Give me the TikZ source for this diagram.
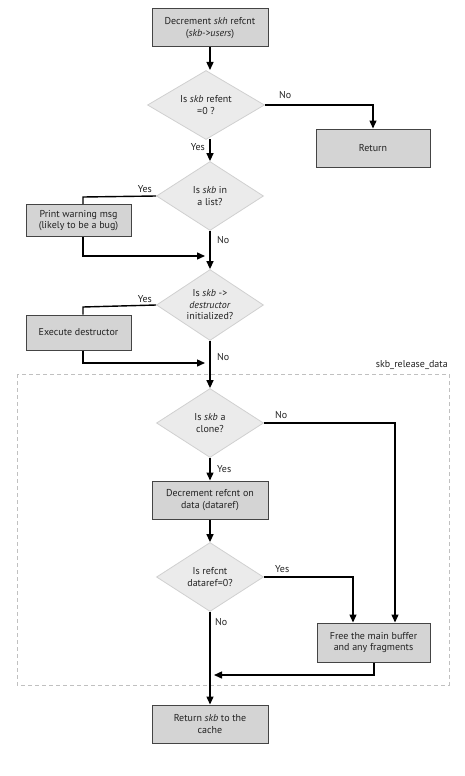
\documentclass[tikz,border=0pt]{standalone}
\usepackage{fontspec}
\setmainfont{PT Sans}
\usetikzlibrary{shapes.geometric,arrows.meta}
\definecolor{boxfill}{HTML}{D4D4D4}
\definecolor{boxline}{HTML}{444444}
\definecolor{diafill}{HTML}{EBEBEB}
\definecolor{dialine}{HTML}{D0D0D0}
\definecolor{dashline}{HTML}{C0C0C0}
\definecolor{txt}{HTML}{222222}
\begin{document}
\begin{tikzpicture}[x=1pt,y=-1pt,
  every node/.style={font=\fontsize{10}{11.5}\selectfont,text=txt},
  procbox/.style={draw=boxline,line width=1pt,fill=boxfill,align=center,inner sep=0pt},
  decision/.style={diamond,draw=dialine,line width=0.8pt,fill=diafill,align=center,inner sep=0pt,aspect=1.55},
  flow/.style={line width=1.4pt,draw=black},
  arr/.style={flow,-{Triangle[length=8pt,width=7pt]}},
  lbl/.style={inner sep=1pt}]
\useasboundingbox (0,0) rectangle (465,776);
% dashed region
\draw[dashline,line width=0.8pt,dash pattern=on 4pt off 3pt] (17,374) rectangle (449,685);
\node[anchor=south east,inner sep=1pt] (grp) at (449,371) {skb\_release\_data};
% nodes
\node[procbox,minimum width=116pt,minimum height=38pt] (top) at (210,28) {Decrement \textit{skh} refcnt\\(\textit{skb->users})};
\node[decision,minimum width=117pt,minimum height=69pt] (d1) at (206,105) {Is \textit{skb} refent\\=0 ?};
\node[procbox,minimum width=114pt,minimum height=38pt] (ret) at (373,148) {Return};
\node[decision,minimum width=107pt,minimum height=69pt] (d2) at (210,196) {Is \textit{skb} in\\a list?};
\node[procbox,minimum width=105pt,minimum height=32pt] (warn) at (78.5,220.5) {Print warning msg\\(likely to be a bug)};
\node[decision,minimum width=107pt,minimum height=71pt] (d3) at (210,305) {Is \textit{skb} ->\\\textit{destructor}\\initialized?};
\node[procbox,minimum width=105pt,minimum height=35pt] (exec) at (78.5,332.5) {Execute destructor};
\node[decision,minimum width=107pt,minimum height=69pt] (d4) at (210,423) {Is \textit{skb} a\\clone?};
\node[procbox,minimum width=116pt,minimum height=38pt] (dec2) at (210,500) {Decrement refcnt on\\data (dataref)};
\node[decision,minimum width=107pt,minimum height=69pt] (d5) at (210,577) {Is refcnt\\dataref=0?};
\node[procbox,minimum width=113pt,minimum height=39pt] (free) at (373.5,642.5) {Free the main buffer\\and any fragments};
\node[procbox,minimum width=116pt,minimum height=38pt] (last) at (210,724) {Return \textit{skb} to the\\cache};
% helper coordinates
\coordinate (c1) at (373,105);
\coordinate (c2) at (83,197);
\coordinate (c3) at (83,256);
\coordinate (c3e) at (205,256);
\coordinate (c4) at (83,307);
\coordinate (c5) at (83,363);
\coordinate (c5e) at (205,363);
\coordinate (c6) at (395,423);
\coordinate (c7) at (353,577);
\coordinate (c8) at (374,675);
\coordinate (c8e) at (214,675);
% connectors
\draw[arr] (top.south -| 210,0) -- (210,70);
\draw[arr] (d1.east) -- (c1) -- (ret.north);
\node[lbl,anchor=south west] (no1) at (278,100) {No};
\draw[arr] (210,139) -- (d2.north);
\node[lbl,anchor=east] (yes1) at (206,147) {Yes};
\draw[flow] (d2.west) -- (c2) -- (warn.north -| c2);
\draw[arr] (warn.south -| c3) -- (c3) -- (c3e);
\node[lbl,anchor=south east] (yes2) at (153,194) {Yes};
\draw[arr] (d2.south) -- (d3.north);
\node[lbl,anchor=west] (no2) at (216,240) {No};
\draw[flow] (d3.west) -- (c4) -- (exec.north -| c4);
\draw[arr] (exec.south -| c5) -- (c5) -- (c5e);
\node[lbl,anchor=south east] (yes3) at (153,304) {Yes};
\draw[arr] (d3.south) -- (d4.north);
\node[lbl,anchor=west] (no3) at (216,357) {No};
\draw[arr] (d4.east) -- (c6) -- (free.north -| c6);
\node[lbl,anchor=south west] (no4) at (274,420) {No};
\draw[arr] (d4.south) -- (dec2.north);
\node[lbl,anchor=west] (yes4) at (216,469) {Yes};
\draw[arr] (dec2.south) -- (d5.north);
\draw[arr] (d5.east) -- (c7) -- (free.north -| c7);
\node[lbl,anchor=south west] (yes5) at (274,574) {Yes};
\draw[arr] (free.south -| c8) -- (c8) -- (c8e);
\draw[arr] (d5.south) -- (last.north);
\node[lbl,anchor=west] (no5) at (214,622) {No};
\end{tikzpicture}
\end{document}
